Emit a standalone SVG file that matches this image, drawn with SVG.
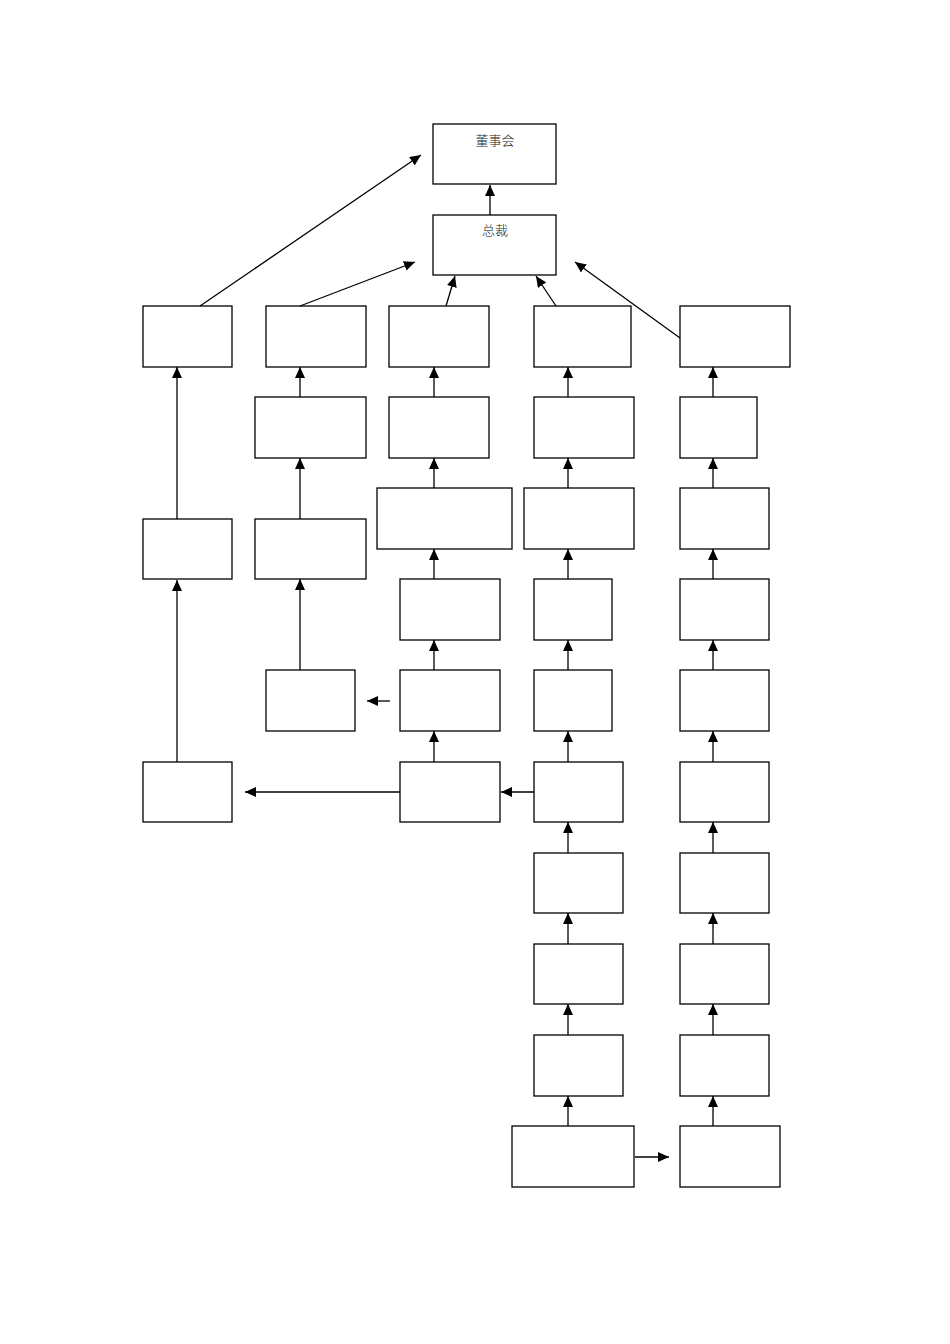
<svg xmlns="http://www.w3.org/2000/svg" width="950" height="1344" viewBox="0 0 950 1344">
<style>
.n{fill:#fff;stroke:#000;stroke-width:1.3}
.c{fill:none;stroke:#000;stroke-width:1.3;marker-end:url(#ah)}
.t{font-family:"Noto Sans CJK SC","Liberation Serif",serif;font-size:13px;font-weight:300;fill:#222;text-anchor:middle}
</style>
<defs>
<marker id="ah" markerWidth="12" markerHeight="10" refX="11" refY="5" orient="auto" markerUnits="userSpaceOnUse">
<path d="M0,0 L11,5 L0,10 Z" fill="#000"/>
</marker>
</defs>
<rect width="950" height="1344" fill="#fff"/>
<g id="nodes">
<g id="board"><rect class="n" x="433" y="124" width="123" height="60"/><text class="t" x="495" y="145">董事会</text></g>
<g id="president"><rect class="n" x="433" y="215" width="123" height="60"/><text class="t" x="495" y="235">总裁</text></g>
<g id="a1"><rect class="n" x="143" y="306" width="89" height="61"/></g>
<g id="b1"><rect class="n" x="266" y="306" width="100" height="61"/></g>
<g id="c1"><rect class="n" x="389" y="306" width="100" height="61"/></g>
<g id="d1"><rect class="n" x="534" y="306" width="97" height="61"/></g>
<g id="e1"><rect class="n" x="680" y="306" width="110" height="61"/></g>
<g id="b2"><rect class="n" x="255" y="397" width="111" height="61"/></g>
<g id="c2"><rect class="n" x="389" y="397" width="100" height="61"/></g>
<g id="d2"><rect class="n" x="534" y="397" width="100" height="61"/></g>
<g id="e2"><rect class="n" x="680" y="397" width="77" height="61"/></g>
<g id="a3"><rect class="n" x="143" y="519" width="89" height="60"/></g>
<g id="b3"><rect class="n" x="255" y="519" width="111" height="60"/></g>
<g id="c3"><rect class="n" x="377" y="488" width="135" height="61"/></g>
<g id="d3"><rect class="n" x="524" y="488" width="110" height="61"/></g>
<g id="e3"><rect class="n" x="680" y="488" width="89" height="61"/></g>
<g id="c4"><rect class="n" x="400" y="579" width="100" height="61"/></g>
<g id="d4"><rect class="n" x="534" y="579" width="78" height="61"/></g>
<g id="e4"><rect class="n" x="680" y="579" width="89" height="61"/></g>
<g id="b5"><rect class="n" x="266" y="670" width="89" height="61"/></g>
<g id="c5"><rect class="n" x="400" y="670" width="100" height="61"/></g>
<g id="d5"><rect class="n" x="534" y="670" width="78" height="61"/></g>
<g id="e5"><rect class="n" x="680" y="670" width="89" height="61"/></g>
<g id="a6"><rect class="n" x="143" y="762" width="89" height="60"/></g>
<g id="c6"><rect class="n" x="400" y="762" width="100" height="60"/></g>
<g id="d6"><rect class="n" x="534" y="762" width="89" height="60"/></g>
<g id="e6"><rect class="n" x="680" y="762" width="89" height="60"/></g>
<g id="d7"><rect class="n" x="534" y="853" width="89" height="60"/></g>
<g id="e7"><rect class="n" x="680" y="853" width="89" height="60"/></g>
<g id="d8"><rect class="n" x="534" y="944" width="89" height="60"/></g>
<g id="e8"><rect class="n" x="680" y="944" width="89" height="60"/></g>
<g id="d9"><rect class="n" x="534" y="1035" width="89" height="61"/></g>
<g id="e9"><rect class="n" x="680" y="1035" width="89" height="61"/></g>
<g id="d10"><rect class="n" x="512" y="1126" width="122" height="61"/></g>
<g id="e10"><rect class="n" x="680" y="1126" width="100" height="61"/></g>
</g>
<g id="connectors">
<line class="c" x1="490" y1="215" x2="490" y2="185"/>
<line class="c" x1="200" y1="306" x2="421" y2="155"/>
<line class="c" x1="300" y1="306" x2="415" y2="262"/>
<line class="c" x1="446" y1="306" x2="455" y2="276"/>
<line class="c" x1="556" y1="306" x2="536" y2="276"/>
<line class="c" x1="680" y1="338" x2="575" y2="262"/>
<line class="c" x1="177" y1="519" x2="177" y2="367"/>
<line class="c" x1="177" y1="762" x2="177" y2="580"/>
<line class="c" x1="300" y1="397" x2="300" y2="367"/>
<line class="c" x1="300" y1="519" x2="300" y2="458"/>
<line class="c" x1="300" y1="670" x2="300" y2="579"/>
<line class="c" x1="434" y1="397" x2="434" y2="367"/>
<line class="c" x1="434" y1="488" x2="434" y2="458"/>
<line class="c" x1="434" y1="579" x2="434" y2="549"/>
<line class="c" x1="434" y1="670" x2="434" y2="640"/>
<line class="c" x1="434" y1="762" x2="434" y2="731"/>
<line class="c" x1="568" y1="397" x2="568" y2="367"/>
<line class="c" x1="568" y1="488" x2="568" y2="458"/>
<line class="c" x1="568" y1="579" x2="568" y2="549"/>
<line class="c" x1="568" y1="670" x2="568" y2="640"/>
<line class="c" x1="568" y1="762" x2="568" y2="731"/>
<line class="c" x1="568" y1="853" x2="568" y2="822"/>
<line class="c" x1="568" y1="944" x2="568" y2="913"/>
<line class="c" x1="568" y1="1035" x2="568" y2="1004"/>
<line class="c" x1="568" y1="1126" x2="568" y2="1096"/>
<line class="c" x1="713" y1="397" x2="713" y2="367"/>
<line class="c" x1="713" y1="488" x2="713" y2="458"/>
<line class="c" x1="713" y1="579" x2="713" y2="549"/>
<line class="c" x1="713" y1="670" x2="713" y2="640"/>
<line class="c" x1="713" y1="762" x2="713" y2="731"/>
<line class="c" x1="713" y1="853" x2="713" y2="822"/>
<line class="c" x1="713" y1="944" x2="713" y2="913"/>
<line class="c" x1="713" y1="1035" x2="713" y2="1004"/>
<line class="c" x1="713" y1="1126" x2="713" y2="1096"/>
<line class="c" x1="390" y1="701" x2="367" y2="701"/>
<line class="c" x1="400" y1="792" x2="245" y2="792"/>
<line class="c" x1="534" y1="792" x2="501" y2="792"/>
<line class="c" x1="635" y1="1157" x2="669" y2="1157"/>
</g>
</svg>
